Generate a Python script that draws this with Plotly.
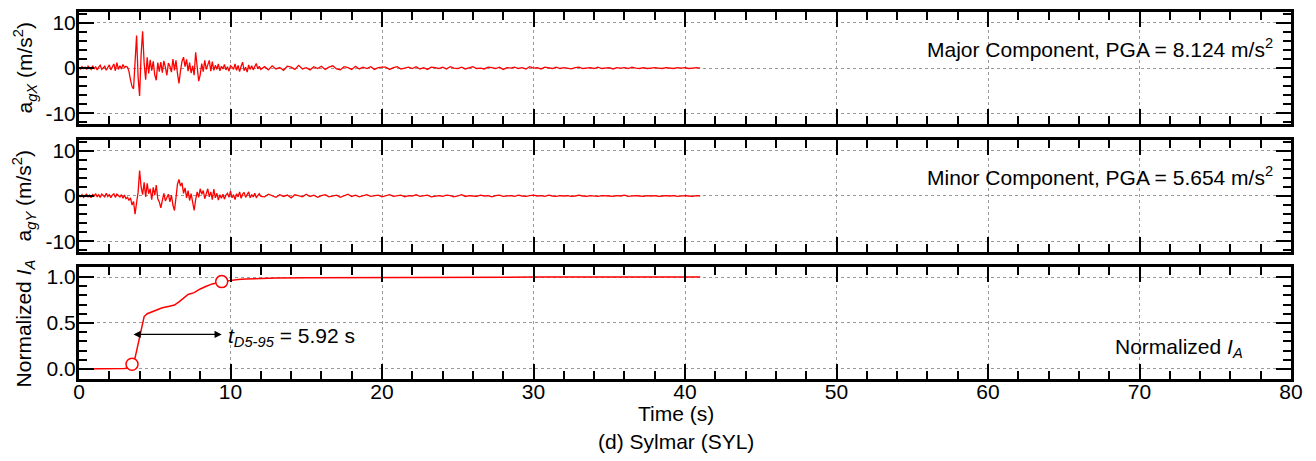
import numpy as np
import plotly.graph_objects as go

# ---------------------------------------------------------------------------
# Sylmar (SYL) ground motion record
# Acceleration samples: 0.1 s spacing up to 12 s, then 0.25 s spacing to 41 s
# ---------------------------------------------------------------------------
DT_EARLY = 0.1
DT_LATE = 0.25
T_SPLIT = 12.0

# Major component a_gX (m/s^2)
acc_x_early = [
    0.1, -0.2, 0.3, -0.1, 0.2, -0.3, 0.4, 0.0, -0.3, 0.5, -0.2, 0.3, -0.4, 0.2, 0.6, -0.3,
    0.1, 0.4, -0.5, 0.3, 0.7, -0.4, 0.2, 0.9, -0.6, 1.2, -0.3, 0.5, -0.2, 0.8, 0.1, 0.4, 0.2,
    -0.8, -2.6, -4.1, -4.6, 1.5, 7.2, -2.0, -6.2, 3.0, 8.124, 1.0, -2.6,
    2.4, -1.2, 1.8, -0.6, 1.5, -1.5, -2.7, 1.2, -0.8, 1.3,
    -1.0, 1.6, 0.2, -1.6, 1.1, 0.4, -0.9, 2.0, -0.5, 1.7,
    -1.2, -3.4, -0.6, 1.5, 2.4, 0.3, 1.9, -0.7, 1.2, -1.1,
    0.5, -1.6, 3.5, 0.8, -2.9, -1.5, 1.0, -0.8, 1.7, -0.3,
    0.9, 1.7, -0.7, 1.4, -0.5, 0.6, -0.3, 0.9, -0.6, 0.4,
    -0.2, 0.8, -0.4, 0.3, -0.7, 0.5, 0.2, -0.3, 0.9, -0.5,
    0.6, -0.8, 0.4, 1.3, -0.6, 0.2, -0.9, 0.7, -0.3, 0.5,
    -0.4, 0.3, 1.0, -0.2, 0.4, -0.3,
]
acc_x_late = [
    0.3, -0.4, 0.5, -0.2, 0.1, -0.5, 0.4, 0.2, -0.3, 0.6, -0.2, 0.1, -0.4, 0.3, -0.1, 0.4,
    -0.3, 0.2, 0.5, -0.2, -0.4, 0.3, 0.1, -0.3, 0.4, -0.2, 0.2, -0.1, 0.3, -0.3, 0.1, 0.2,
    0.2, -0.3, 0.1, 0.3, -0.2, 0.0, 0.2, -0.1, 0.3, -0.2, 0.1, -0.3, 0.2, 0.1, -0.1, 0.2,
    -0.2, 0.3, 0.0, -0.1, 0.2, -0.2, 0.1, 0.3, -0.1, 0.0, -0.2, 0.2, 0.1, -0.1, 0.2, -0.3,
    0.1, 0.0, 0.2, -0.1, 0.1, -0.2, 0.3, 0.0,
    0.1, -0.2, 0.2, 0.0, -0.1, 0.2, -0.1, 0.1, 0.0, -0.2, 0.1, 0.2, -0.1, 0.0, 0.1, -0.1,
    0.2, -0.1, 0.0, 0.1, -0.2, 0.1, 0.0, 0.1, -0.1, 0.2, 0.0, -0.1, 0.1, -0.1, 0.0, 0.1,
    0.0, -0.1, 0.1, 0.0, -0.1, 0.1, 0.0, 0.1, -0.1, 0.0, 0.1, 0.0,
]

# Minor component a_gY (m/s^2)
acc_y_early = [
    0.2, -0.1, 0.3, -0.3, 0.1, 0.4, -0.2, 0.2, -0.4, 0.3, 0.0, 0.5, -0.2, 0.3, -0.3, 0.4,
    0.1, -0.2, 0.6, -0.1, 0.3, -0.4, 0.2, 0.5, -0.3, 0.4, 0.1, -0.2, 0.3, -0.5, 0.2, -0.6, -0.3,
    -1.0, -0.4, -2.0, -1.2, -4.0, -1.5, 0.8, 5.654, 2.0, 0.3, 3.0, -0.2,
    2.8, 0.5, 1.6, -0.8, 1.9, 0.2, 2.4, -0.6, -1.3, -2.6,
    -0.5, 0.6, -1.1, -0.2, 0.4, -1.3, 0.2, -2.0, -3.2, -0.4,
    2.6, 3.65, 2.2, 2.9, 0.6, 1.8, -0.4, 1.2, -1.0, 0.5,
    -1.6, -3.2, -0.8, 0.9, -0.3, 1.6, 0.4, 1.2, -0.6, 0.8,
    1.6, -0.2, 0.9, -0.8, 1.5, -0.4, 0.6, -0.9, 0.3, -0.5,
    0.4, -0.7, 0.2, 0.6, -0.3, 1.1, -0.4, 0.3, -0.8, 0.5,
    -0.2, 0.9, -0.5, 0.4, 0.8, -0.3, 0.2, 0.9, -0.4, 0.3,
    -0.2, 0.6, -0.3, 0.2, 0.5, -0.1,
]
acc_y_late = [
    -0.2, 0.4, 0.1, -0.3, 0.3, -0.1, 0.2, -0.4, 0.3, 0.0, -0.2, 0.4, -0.1, 0.2, -0.3, 0.1,
    0.3, -0.2, 0.0, 0.2, -0.3, 0.1, 0.4, -0.1, 0.2, -0.2, 0.1, 0.3, -0.1, 0.0, 0.2, -0.2,
    0.1, 0.3, -0.1, 0.0, 0.2, -0.2, 0.1, 0.0, 0.3, -0.1, 0.1, 0.2, -0.2, 0.0, 0.1, -0.1,
    0.2, 0.1, -0.2, 0.0, 0.3, -0.1, 0.1, 0.0, -0.1, 0.2, 0.0, 0.1, -0.2, 0.1, 0.2, -0.1,
    0.0, 0.1, -0.1, 0.2, 0.0, -0.1, 0.1, 0.2,
    0.0, 0.1, -0.1, 0.2, 0.0, -0.1, 0.1, 0.0, 0.1, -0.1, 0.0, 0.2, 0.0, -0.1, 0.1, 0.0,
    -0.1, 0.1, 0.1, 0.0, -0.1, 0.1, 0.0, 0.2, -0.1, 0.0, 0.1, 0.0, -0.1, 0.1, 0.0, 0.1,
    -0.1, 0.0, 0.1, 0.0, 0.1, -0.1, 0.0, 0.1, 0.0, -0.1, 0.1, 0.0,
]

# Normalized Arias intensity (cumulative)
ia_time = [0, 1, 2, 3, 3.3, 3.5, 3.7, 3.8, 3.9, 4.0, 4.1, 4.2, 4.3, 4.5, 4.8, 5.1, 5.5,
           5.9, 6.3, 6.6, 6.9, 7.2, 7.6, 8.0, 8.4, 8.8, 9.42, 10.0, 10.5, 11, 12, 13,
           15, 18, 22, 26, 30, 35, 41]
ia_norm = [0, 0, 0.002, 0.005, 0.012, 0.05, 0.12, 0.2, 0.28, 0.36, 0.44, 0.52, 0.57,
           0.60, 0.62, 0.645, 0.665, 0.68, 0.695, 0.73, 0.77, 0.81, 0.83, 0.87, 0.9,
           0.925, 0.95, 0.965, 0.972, 0.978, 0.985, 0.989, 0.992, 0.995, 0.997, 0.998,
           0.999, 0.9995, 1.0]

# 5 % and 95 % Arias intensity times
t5, t95 = 3.50, 9.42
ia5, ia95 = 0.05, 0.95

x_ticks = [0, 10, 20, 30, 40, 50, 60, 70, 80]
acc_ticks = [-10, 0, 10]
ia_ticks = [0.0, 0.5, 1.0]

# ---------------------------------------------------------------------------
t_early = np.arange(len(acc_x_early)) * DT_EARLY
t_late = T_SPLIT + DT_LATE * np.arange(1, len(acc_x_late) + 1)
time = np.concatenate([t_early, t_late])
acc_x = np.array(acc_x_early + acc_x_late)
acc_y = np.array(acc_y_early + acc_y_late)
pga_x = np.abs(acc_x).max()
pga_y = np.abs(acc_y).max()

FONT = "Liberation Sans, Arial, sans-serif"
FS = 21
RED = "#ff0000"

fig = go.Figure()
fig.add_trace(go.Scatter(x=time, y=acc_x, mode="lines", line=dict(color=RED, width=1.3),
                         xaxis="x", yaxis="y", showlegend=False))
fig.add_trace(go.Scatter(x=time, y=acc_y, mode="lines", line=dict(color=RED, width=1.3),
                         xaxis="x2", yaxis="y2", showlegend=False))
fig.add_trace(go.Scatter(x=ia_time, y=ia_norm, mode="lines", line=dict(color=RED, width=1.5),
                         xaxis="x3", yaxis="y3", showlegend=False))
fig.add_trace(go.Scatter(x=[t5, t95], y=[ia5, ia95], mode="markers",
                         marker=dict(symbol="circle", size=12, color="white",
                                     line=dict(color=RED, width=1.5)),
                         xaxis="x3", yaxis="y3", showlegend=False))

frame = dict(showline=True, linecolor="black", linewidth=3, mirror="ticks",
             ticks="inside", ticklen=15, tickwidth=2, tickcolor="black",
             showgrid=True, gridcolor="#9a9a9a", gridwidth=1, griddash="dot",
             zeroline=False, tickfont=dict(family=FONT, size=FS, color="black"))


def xaxis(anchor, labels):
    return dict(frame, range=[0, 80], tickmode="array", tickvals=x_ticks,
                ticktext=[str(v) for v in x_ticks], showticklabels=labels,
                anchor=anchor, domain=[0, 1], ticklabelstandoff=-8,
                minor=dict(tickmode="linear", tick0=0, dtick=2, ticks="inside",
                           ticklen=8, tickwidth=2, tickcolor="black", showgrid=False))


def yaxis(anchor, dom, rng, vals, text, minor_step):
    return dict(frame, range=rng, tickmode="array", tickvals=vals, ticktext=text,
                anchor=anchor, domain=dom, ticklabelstandoff=-4,
                minor=dict(tickmode="linear", tick0=0, dtick=minor_step, ticks="inside",
                           ticklen=8, tickwidth=2, tickcolor="black", showgrid=False))


dom1 = [0.6946, 1.0]
dom2 = [0.3459, 0.6514]
dom3 = [0.0, 0.3054]

fig.update_layout(
    width=1316, height=461,
    margin=dict(l=79, r=25, t=9, b=82),
    paper_bgcolor="white", plot_bgcolor="white",
    font=dict(family=FONT, size=FS, color="black"),
    xaxis=xaxis("y", False),
    xaxis2=xaxis("y2", False),
    xaxis3=xaxis("y3", True),
    yaxis=yaxis("x", dom1, [-12.4, 12.4], acc_ticks, ["-10", "0", "10"], 2),
    yaxis2=yaxis("x2", dom2, [-12.4, 12.4], acc_ticks, ["-10", "0", "10"], 2),
    yaxis3=yaxis("x3", dom3, [-0.11, 1.11], ia_ticks, ["0.0", "0.5", "1.0"], 0.1),
)

ann = []
# y-axis titles
for dom, txt in [(dom1, "a<sub><i>gX</i></sub> (m/s<sup>2</sup>)"),
                 (dom2, "a<sub><i>gY</i></sub> (m/s<sup>2</sup>)"),
                 (dom3, "Normalized <i>I<sub>A</sub></i>")]:
    ann.append(dict(text=txt, xref="paper", yref="paper", x=-0.045, y=(dom[0] + dom[1]) / 2,
                    xanchor="center", yanchor="middle", textangle=-90, showarrow=False,
                    font=dict(family=FONT, size=FS)))

ann.append(dict(text=f"Major Component, PGA = {pga_x:.3f} m/s<sup>2</sup>",
                xref="x domain", yref="y domain", x=0.9868, y=0.68,
                xanchor="right", yanchor="middle", showarrow=False))
ann.append(dict(text=f"Minor Component, PGA = {pga_y:.3f} m/s<sup>2</sup>",
                xref="x2 domain", yref="y2 domain", x=0.9868, y=0.68,
                xanchor="right", yanchor="middle", showarrow=False))
ann.append(dict(text="Normalized <i>I<sub>A</sub></i>",
                xref="x3 domain", yref="y3 domain", x=0.962, y=0.28,
                xanchor="right", yanchor="middle", showarrow=False))

# significant duration D5-95
ann.append(dict(x=t95, y=0.375, ax=t5, ay=0.375, xref="x3", yref="y3",
                axref="x3", ayref="y3", text="", showarrow=True,
                arrowhead=2, startarrowhead=2, arrowside="end+start",
                arrowsize=1.1, arrowwidth=1.3, arrowcolor="black"))
ann.append(dict(text=f"<i>t<sub>D5-95</sub></i> = {t95 - t5:.2f} s",
                xref="x3", yref="y3", x=t95 + 0.25, y=0.35,
                xanchor="left", yanchor="middle", showarrow=False))

# bottom titles
ann.append(dict(text="Time (s)", xref="paper", yref="paper", x=0.4926, y=-0.095,
                xanchor="center", yanchor="middle", showarrow=False))
ann.append(dict(text="(d) Sylmar (SYL)", xref="paper", yref="paper", x=0.4926, y=-0.17,
                xanchor="center", yanchor="middle", showarrow=False))

fig.update_layout(annotations=ann)
fig.write_html("out.html")
